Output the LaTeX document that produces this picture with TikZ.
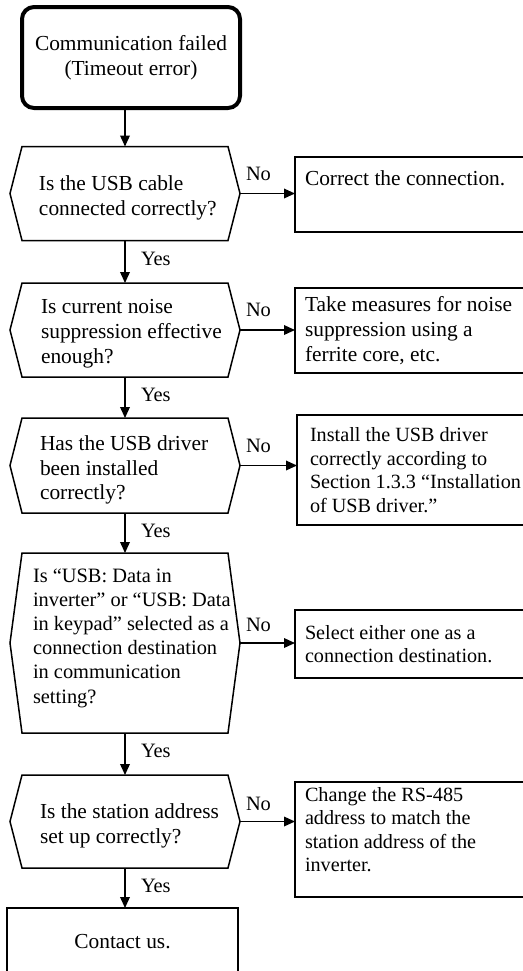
\documentclass[tikz,border=0pt]{standalone}
\usepackage{fontspec}
\setmainfont{Liberation Serif}
\usetikzlibrary{arrows.meta}
\newcommand\hexdraw[1]{\draw[line width=0.75pt] (#1.west) -- ([xshift=6pt]#1.north west) -- ([xshift=-6pt]#1.north east) -- (#1.east) -- ([xshift=-6pt]#1.south east) -- ([xshift=6pt]#1.south west) -- cycle;}
\newcommand\boxtext[1]{\parbox{108pt}{#1}}
\begin{document}
\begin{tikzpicture}[x=0.5pt,y=-0.5pt,
  every node/.style={inner sep=0pt, outer sep=0pt},
  big/.style={font=\fontsize{10.7}{12.4}\selectfont},
  small/.style={font=\fontsize{10.1}{11.8}\selectfont},
  lbl/.style={font=\fontsize{10.2}{12}\selectfont, anchor=west},
  startbox/.style={draw, line width=2pt, rounded corners=6pt, align=center, big, minimum width=109pt, minimum height=50.5pt},
  hexnode/.style={minimum width=115pt},
  dtext/.style={anchor=west, align=left},
  actbox/.style={draw, line width=0.75pt, anchor=north west, inner xsep=5pt},
  endbox/.style={draw, line width=0.75pt, anchor=north west, big, minimum width=115.5pt},
  flow/.style={line width=0.75pt, -{Triangle[length=5.5pt,width=4.8pt]}},
]
\fill[white] (0,0) rectangle (523,971);
\useasboundingbox (0,0) rectangle (523,971);
\clip (0,0) rectangle (523,971);

% start
\node[startbox] (start) at (131,57.5) {Communication failed\\(Timeout error)};

% decisions
\node[hexnode, minimum height=47pt] (d1) at (125,193.5) {};
\node[hexnode, minimum height=47pt] (d2) at (125,330) {};
\node[hexnode, minimum height=47.5pt] (d3) at (125,465.5) {};
\node[hexnode, minimum height=90pt] (d4) at (125,643) {};
\node[hexnode, minimum height=46.5pt] (d5) at (125,821.5) {};
\hexdraw{d1}\hexdraw{d2}\hexdraw{d3}\hexdraw{d4}\hexdraw{d5}

\node[dtext, big] (t1) at (39,197.5) {Is the USB cable\\connected correctly?};
\node[dtext, big] (t2) at (41,334) {Is current noise\\suppression effective\\enough?};
\node[dtext, big] (t3) at (40,470) {Has the USB driver\\been installed\\correctly?};
\node[dtext, font=\fontsize{10.2}{12.1}\selectfont] (t4) at (33,638) {Is “USB: Data in\\inverter” or “USB: Data\\in keypad” selected as a\\connection destination\\in communication\\setting?};
\node[dtext, big] (t5) at (40,826) {Is the station address\\set up correctly?};

% action boxes
\node[actbox, inner ysep=6.7pt, big] (b1) at (295,157) {\parbox[c][24.1pt][t]{108pt}{Correct the connection.}};
\node[actbox, big, minimum height=42.5pt] (b2) at (295,288) {\boxtext{Take measures for noise\\suppression using a\\ferrite core, etc.}};
\node[actbox, small, inner xsep=6.5pt, minimum height=55pt] (b3) at (297,415) {\boxtext{Install the USB driver\\correctly according to\\Section 1.3.3 “Installation\\of USB driver.”}};
\node[actbox, small, minimum height=34pt] (b4) at (295,610) {\boxtext{Select either one as a\\connection destination.}};
\node[actbox, inner ysep=2.5pt, small] (b5) at (295,782) {\parbox[c][52.5pt][t]{108pt}{Change the RS-485\\address to match the\\station address of the\\inverter.}};
\node[endbox, minimum height=34pt] (end) at (7,908) {Contact us.};

% connectors
\draw[flow] (start.south -| d1.north) -- (d1.north);
\draw[flow] (d1.south) -- (d2.north);
\draw[flow] (d2.south) -- (d3.north);
\draw[flow] (d3.south) -- (d4.north);
\draw[flow] (d4.south) -- (d5.north);
\draw[flow] (d5.south) -- (end.north -| d5.south);
\draw[flow] (d1.east) -- (d1.east -| b1.west);
\draw[flow] (d2.east) -- (d2.east -| b2.west);
\draw[flow] (d3.east) -- (d3.east -| b3.west);
\draw[flow] (d4.east) -- (d4.east -| b4.west);
\draw[flow] (d5.east) -- (d5.east -| b5.west);

% labels
\node[lbl] (y1) at ([xshift=8pt,yshift=-9pt]d1.south) {Yes};
\node[lbl] (y2) at ([xshift=8pt,yshift=-9pt]d2.south) {Yes};
\node[lbl] (y3) at ([xshift=8pt,yshift=-9pt]d3.south) {Yes};
\node[lbl] (y4) at ([xshift=8pt,yshift=-9pt]d4.south) {Yes};
\node[lbl] (y5) at ([xshift=8pt,yshift=-9pt]d5.south) {Yes};
\node[lbl] (n1) at ([xshift=3pt,yshift=10pt]d1.east) {No};
\node[lbl] (n2) at ([xshift=3pt,yshift=10pt]d2.east) {No};
\node[lbl] (n3) at ([xshift=3pt,yshift=10pt]d3.east) {No};
\node[lbl] (n4) at ([xshift=3pt,yshift=9pt]d4.east) {No};
\node[lbl] (n5) at ([xshift=3pt,yshift=9pt]d5.east) {No};
\end{tikzpicture}
\end{document}
